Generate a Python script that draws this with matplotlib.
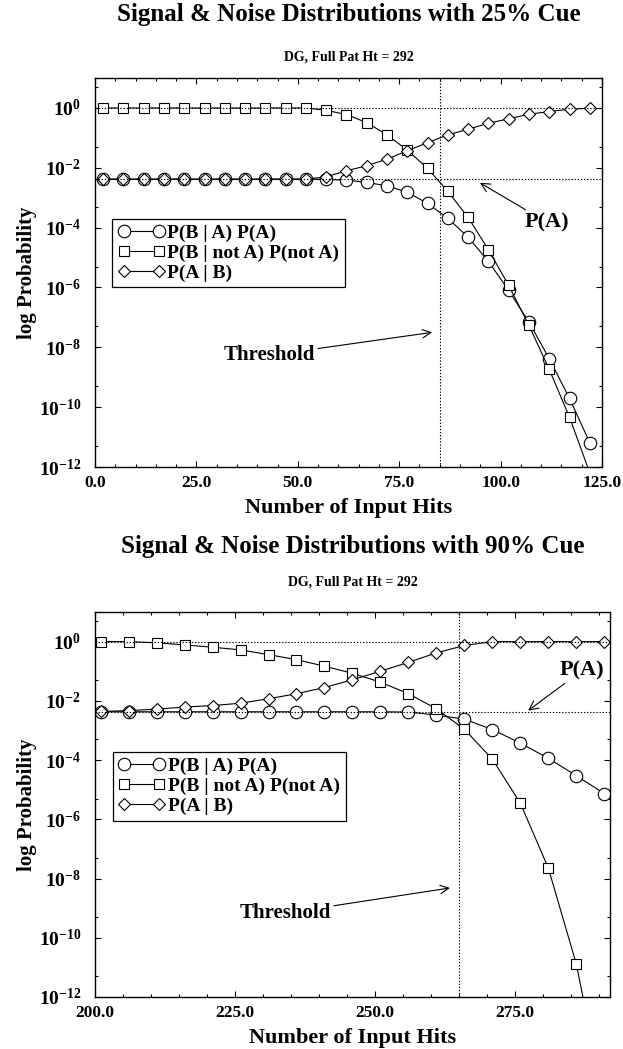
import matplotlib
matplotlib.use("Agg")
import numpy as np
import matplotlib.pyplot as plt
from matplotlib.ticker import FixedLocator, MultipleLocator, FuncFormatter, NullFormatter

plt.rcParams.update({
    "font.family": ["Liberation Serif", "DejaVu Serif"],
    "font.weight": "bold",
    "mathtext.fontset": "custom",
    "mathtext.rm": "Liberation Serif:bold",
    "mathtext.bf": "Liberation Serif:bold",
    "mathtext.it": "Liberation Serif:bold",
    "mathtext.default": "rm",
    "axes.linewidth": 1.0,
})

# ---- 25% cue: log10 probabilities versus number of input hits ----
hits_25 = [2, 7, 12, 17, 22, 27, 32, 37, 42, 47, 52, 57, 62,
           67, 72, 77, 82, 87, 92, 97, 102, 107, 112, 117, 122]
signal_25 = [-2.38, -2.38, -2.38, -2.38, -2.38, -2.38, -2.38, -2.38, -2.38,
             -2.38, -2.38, -2.39, -2.41, -2.49, -2.60, -2.82, -3.19, -3.69,
             -4.32, -5.13, -6.10, -7.16, -8.38, -9.71, -11.19]
noise_25 = [0.0, 0.0, 0.0, 0.0, 0.0, 0.0, 0.0, 0.0, 0.0, 0.0, 0.0,
            -0.08, -0.22, -0.49, -0.90, -1.41, -2.02, -2.79, -3.66, -4.74,
            -5.93, -7.27, -8.74, -10.34, -12.2]
posterior_25 = [-2.38, -2.38, -2.38, -2.38, -2.38, -2.38, -2.38, -2.38, -2.38,
                -2.38, -2.38, -2.30, -2.10, -1.93, -1.71, -1.43, -1.16, -0.90,
                -0.71, -0.51, -0.36, -0.21, -0.12, -0.04, -0.01]
threshold_25 = 85

# ---- 90% cue ----
hits_90 = [201, 206, 211, 216, 221, 226, 231, 236, 241, 246,
           251, 256, 261, 266, 271, 276, 281, 286, 291]
signal_90 = [-2.37, -2.37, -2.37, -2.37, -2.37, -2.37, -2.37, -2.37, -2.37,
             -2.37, -2.37, -2.38, -2.48, -2.62, -2.97, -3.43, -3.94, -4.53, -5.13]
noise_90 = [0.0, 0.0, -0.04, -0.11, -0.19, -0.28, -0.44, -0.61, -0.83, -1.07,
            -1.37, -1.76, -2.27, -2.96, -3.97, -5.46, -7.65, -10.89, -15.6]
posterior_90 = [-2.36, -2.33, -2.28, -2.21, -2.16, -2.08, -1.93, -1.76, -1.55,
                -1.29, -1.00, -0.70, -0.38, -0.13, 0.0, 0.0, 0.0, 0.0, 0.0]
threshold_90 = 265

prior_a = 0.0042
full_pattern_hits = 292

series_labels = ["P(B | A) P(A)", "P(B | not A) P(not A)", "P(A | B)"]
series_markers = ["o", "s", "D"]
series_msize = [9.0, 7.5, 6.4]

fig = plt.figure(figsize=(6.23, 10.49), dpi=100)

dotted = (0, (1.2, 1.6))


def draw_panel(ax, hits, series, threshold, xlim, xmajor, xfmt,
               legend_anchor, pa_text, pa_tip, th_text, th_tip):
    for vals, lab, mk, ms in zip(series, series_labels, series_markers, series_msize):
        ax.plot(hits, 10.0 ** np.asarray(vals), color="black", lw=0.8,
                marker=mk, ms=ms, mfc="white", mec="black", mew=0.8,
                label=lab, clip_on=True)
    ax.set_yscale("log")
    ax.set_xlim(*xlim)
    ax.set_ylim(1e-12, 1e1)

    # reference lines: certainty, prior P(A) and threshold
    ax.axhline(1.0, color="black", lw=0.8, ls=dotted, zorder=5)
    ax.axhline(prior_a, color="black", lw=0.8, ls=dotted, zorder=5)
    ax.axvline(threshold, color="black", lw=0.8, ls=dotted, zorder=5)

    ax.xaxis.set_major_locator(MultipleLocator(xmajor))
    ax.xaxis.set_minor_locator(MultipleLocator(5))
    ax.xaxis.set_major_formatter(FuncFormatter(lambda v, p: xfmt % v))
    ax.yaxis.set_major_locator(FixedLocator([10.0 ** k for k in range(-12, 1, 2)]))
    ax.yaxis.set_minor_locator(FixedLocator([5 * 10.0 ** k for k in range(-12, 1, 2)]))
    ax.yaxis.set_major_formatter(FuncFormatter(
        lambda v, p: r"$\mathbf{10^{%d}}$" % int(round(np.log10(v)))))
    ax.yaxis.set_minor_formatter(NullFormatter())
    ax.tick_params(which="both", direction="in", top=True, right=True, width=0.8)
    ax.tick_params(which="major", length=4.5)
    ax.tick_params(which="minor", length=2.5)
    ax.tick_params(axis="x", which="major", labelsize=12.5, pad=6)
    ax.tick_params(axis="y", which="major", labelsize=14, pad=10)
    for lbl in ax.get_xticklabels() + ax.get_yticklabels():
        lbl.set_fontweight("bold")

    ax.set_xlabel("Number of Input Hits", fontsize=16, fontweight="bold", labelpad=5)
    ax.set_ylabel("log Probability", fontsize=15, fontweight="bold", labelpad=1)

    leg = ax.legend(loc="upper left", bbox_to_anchor=legend_anchor,
                    numpoints=2, handlelength=2.4, handletextpad=0.15,
                    borderpad=0.28, labelspacing=0.12, borderaxespad=0.0,
                    fancybox=False, framealpha=1.0, edgecolor="black",
                    prop={"family": "Liberation Serif", "weight": "bold", "size": 14})
    leg.get_frame().set_linewidth(0.9)

    arrow = dict(arrowstyle="->", color="black", lw=0.8, shrinkA=0, shrinkB=0)
    ax.annotate("P(A)", xy=pa_tip, xytext=pa_text, fontsize=16, fontweight="bold",
                ha="center", va="center", arrowprops=arrow)
    ax.annotate("Threshold", xy=th_tip, xytext=th_text, fontsize=15,
                fontweight="bold", ha="center", va="center", arrowprops=arrow)


ax1 = fig.add_axes([0.1525, 0.5548, 0.9663 - 0.1525, 0.9256 - 0.5548])
draw_panel(ax1, hits_25, [signal_25, noise_25, posterior_25], threshold_25,
           (0, 125), 25, "%.1f", (0.034, 0.638),
           pa_text=(111.5, 10 ** -3.83), pa_tip=(94.9, 10 ** -2.5),
           th_text=(43.0, 10 ** -8.27), th_tip=(83.1, 10 ** -7.5))

ax2 = fig.add_axes([0.1525, 0.0496, 0.979 - 0.1525, 0.4166 - 0.0496])
draw_panel(ax2, hits_90, [signal_90, noise_90, posterior_90], threshold_90,
           (200, full_pattern_hits), 25, "%.1f", (0.035, 0.636),
           pa_text=(287.0, 10 ** -0.98), pa_tip=(277.4, 10 ** -2.33),
           th_text=(234.0, 10 ** -9.17), th_tip=(263.4, 10 ** -8.32))

cx1 = 0.1525 + (0.9663 - 0.1525) / 2
cx2 = 0.1525 + (0.979 - 0.1525) / 2
fig.text(cx1, 0.9860, "Signal & Noise Distributions with 25% Cue",
         ha="center", va="center", fontsize=18, fontweight="bold")
fig.text(cx1, 0.9457, "DG, Full Pat Ht = %d" % full_pattern_hits,
         ha="center", va="center", fontsize=10, fontweight="bold")
fig.text(cx2, 0.4795, "Signal & Noise Distributions with 90% Cue",
         ha="center", va="center", fontsize=18, fontweight="bold")
fig.text(cx2, 0.4452, "DG, Full Pat Ht = %d" % full_pattern_hits,
         ha="center", va="center", fontsize=10, fontweight="bold")

fig.savefig("out.png", dpi=100)
